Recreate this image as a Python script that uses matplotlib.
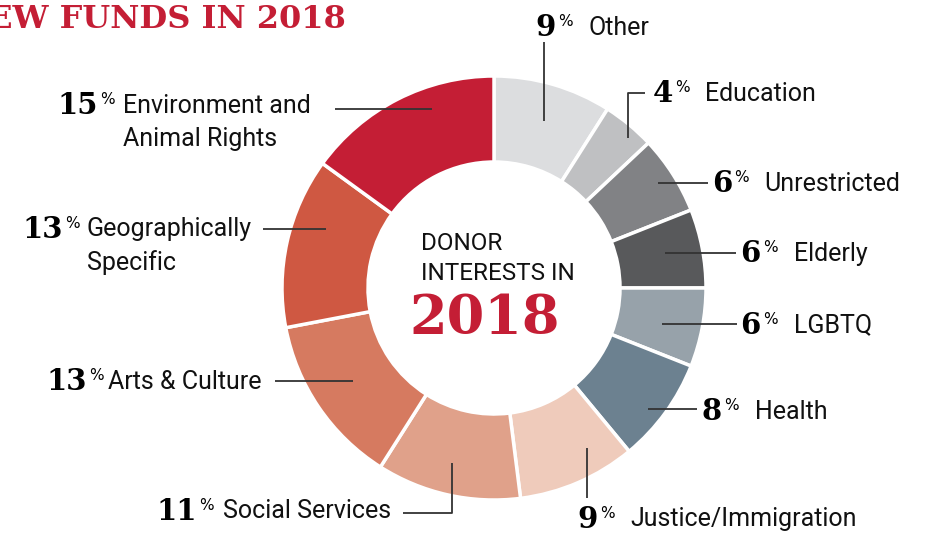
import matplotlib.pyplot as plt

# data
categories = ["Other", "Education", "Unrestricted", "Elderly", "LGBTQ", "Health",
              "Justice/Immigration", "Social Services", "Arts & Culture",
              "Geographically\nSpecific", "Environment and\nAnimal Rights"]
shares = [9, 4, 6, 6, 6, 8, 9, 11, 13, 13, 15]
colors = ["#dcdddf", "#bfc0c2", "#818285", "#58595b", "#97a2aa", "#6c8190",
          "#efcbbb", "#e0a18a", "#d67a60", "#cf5842", "#c41e35"]

# label layout (pixels): number right edge, y, label left x
num_x = [555, 672, 731, 760, 760, 721, 597, 196, 86, 62, 97]
num_y = [27, 93, 183, 253, 324, 411, 518, 510, 381, 228, 105]
lab_x = [588, 705, 764, 794, 794, 755, 630, 223, 108, 87, 123]

# leader lines (pixels)
leaders = [
    [(544, 42), (544, 121)],
    [(628, 138), (628, 93), (645, 93)],
    [(658, 183), (708, 183)],
    [(665, 253), (736, 253)],
    [(662, 324), (737, 324)],
    [(648, 409), (697, 409)],
    [(587, 448), (587, 498)],
    [(452, 463), (452, 513), (403, 513)],
    [(275, 381), (353, 381)],
    [(263, 229), (326, 229)],
    [(335, 109), (432, 109)],
]

RED = "#c41e35"
W, H = 942, 534
sans = ["Roboto", "DejaVu Sans"]
slab = ["DejaVu Serif"]

fig = plt.figure(figsize=(W / 100, H / 100), dpi=100)
ax = fig.add_axes([0, 0, 1, 1])

ax.pie(shares, colors=colors, startangle=-90, counterclock=True,
       center=(494, 288), radius=212,
       wedgeprops=dict(width=86, edgecolor="white", linewidth=2.5))
ax.set_xlim(0, W)
ax.set_ylim(H, 0)
ax.set_aspect("equal")
ax.axis("off")

for i, cat in enumerate(categories):
    ax.text(num_x[i] + 1, num_y[i] + 1, str(shares[i]), ha="right", va="center",
            fontsize=21, fontweight="heavy", family=slab, color="black")
    ax.text(num_x[i] + 3, num_y[i] - 5, "%", ha="left", va="center",
            fontsize=11, family=["DejaVu Sans"], color="black")
    multi = "\n" in cat
    ax.text(lab_x[i], num_y[i] - 11 if multi else num_y[i] + 1, cat, ha="left",
            va="top" if multi else "center",
            fontsize=18, family=sans, color="#111111", linespacing=1.45)
    xs = [p[0] for p in leaders[i]]
    ys = [p[1] for p in leaders[i]]
    ax.plot(xs, ys, color="#333333", lw=1.3, solid_capstyle="butt")

ax.text(346, 20, "NEW FUNDS IN 2018", ha="right", va="center",
        fontsize=23, fontweight="bold", family=slab, color=RED)

ax.text(421, 243, "DONOR", ha="left", va="center", fontsize=17.5, family=sans, color="#111111")
ax.text(421, 274, "INTERESTS IN", ha="left", va="center", fontsize=17.5, family=sans, color="#111111")
ax.text(485, 319, "2018", ha="center", va="center", fontsize=39, fontweight="heavy",
        family=slab, color=RED)

fig.savefig("out.png", dpi=100)
